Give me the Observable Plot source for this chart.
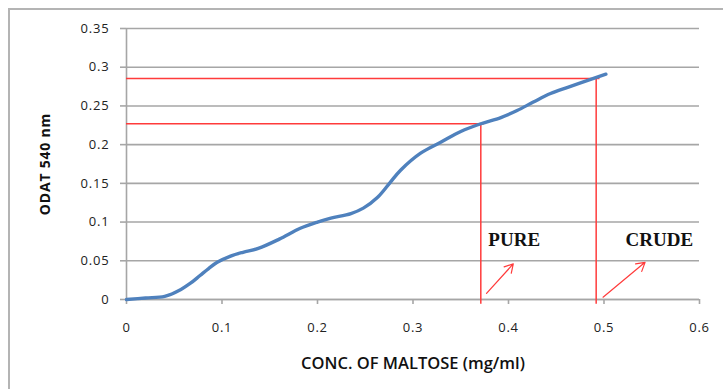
<!DOCTYPE html>
<html>
<head>
<meta charset="utf-8">
<script src="https://cdn.jsdelivr.net/npm/d3@7"></script>
<script src="https://cdn.jsdelivr.net/npm/@observablehq/plot@0.6"></script>
<style>
  html, body { margin: 0; padding: 0; background: #fff; overflow: hidden; }
  #wrap { position: relative; width: 723px; height: 389px; overflow: hidden; }
  #frame { position: absolute; left: 8px; top: 8px; width: 900px; height: 600px; border: 2px solid #b4b4b4; box-sizing: border-box; }
  #chart { position: absolute; left: 0; top: 0; }
</style>
</head>
<body>
<div id="wrap"><div id="frame"></div><div id="chart"></div></div>
<script>
// Series: concentration of maltose (mg/ml) vs OD at 540 nm
const conc = [0, 0.02, 0.04, 0.057, 0.067, 0.077, 0.086, 0.095, 0.109, 0.122, 0.138, 0.16, 0.182, 0.2, 0.214, 0.235, 0.248, 0.263, 0.276, 0.287, 0.308, 0.329, 0.35, 0.371, 0.392, 0.409, 0.426, 0.444, 0.462, 0.483, 0.502];
const od   = [0, 0.002, 0.004, 0.013, 0.021, 0.031, 0.040, 0.048, 0.056, 0.061, 0.066, 0.078, 0.092, 0.100, 0.105, 0.111, 0.118, 0.132, 0.151, 0.167, 0.189, 0.203, 0.217, 0.227, 0.235, 0.244, 0.255, 0.266, 0.274, 0.283, 0.291];

// Tick values
const xTicks = [0, 0.1, 0.2, 0.3, 0.4, 0.5, 0.6];
const yTicks = [0, 0.05, 0.1, 0.15, 0.2, 0.25, 0.3, 0.35];

// Read-off annotations (sample name, OD reading, concentration)
const sampleNames = ["PURE", "CRUDE"];
const sampleOD = [0.227, 0.2855];
const sampleConc = [0.371, 0.4918];
// label anchor points and arrow ends (data units)
const labelX = [0.406, 0.558];
const labelY = [0.077, 0.077];
const arrowX1 = [0.377, 0.499];
const arrowY1 = [0.008, 0.003];
const arrowX2 = [0.405, 0.543];
const arrowY2 = [0.046, 0.048];

const data = conc.map((c, i) => ({x: c, y: od[i]}));
const samples = sampleNames.map((n, i) => ({
  name: n, od: sampleOD[i], conc: sampleConc[i],
  lx: labelX[i], ly: labelY[i],
  ax1: arrowX1[i], ay1: arrowY1[i], ax2: arrowX2[i], ay2: arrowY2[i]
}));

const fmt = d => String(+d.toFixed(3));
const gray = "#a6a6a6";
const red = "#ff3b3b";

const chart = Plot.plot({
  width: 723,
  height: 389,
  marginLeft: 126,
  marginRight: 24,
  marginTop: 28,
  marginBottom: 90,
  style: { fontFamily: "'Open Sans', 'Liberation Sans', sans-serif", fontSize: "13px", color: "#222", background: "transparent" },
  x: { domain: [0, 0.6] },
  y: { domain: [0, 0.35] },
  marks: [
    Plot.gridY(yTicks, { stroke: gray, strokeOpacity: 1, strokeWidth: 1.6 }),
    Plot.axisY(yTicks, { tickSize: 6, tickPadding: 11, stroke: gray, strokeOpacity: 1, strokeWidth: 1.6, tickFormat: fmt, fill: "#222", fontSize: 13,
      label: "ODAT 540 nm", labelAnchor: "center", labelArrow: "none", labelOffset: 86 }),
    Plot.axisX(xTicks, { tickSize: 5, tickPadding: 18, stroke: gray, strokeOpacity: 1, strokeWidth: 1.6, tickFormat: fmt, fill: "#222", fontSize: 13,
      label: "CONC. OF MALTOSE (mg/ml)", labelAnchor: "center", labelArrow: "none", labelOffset: 69 }),
    Plot.ruleX([0], { stroke: gray, strokeWidth: 1.6 }),
    Plot.ruleY([0], { stroke: gray, strokeWidth: 1.6 }),
    // read-off lines
    Plot.ruleY(samples, { y: "od", x1: 0, x2: d => d.conc + 0.004, stroke: red, strokeWidth: 1.5 }),
    Plot.ruleX(samples, { x: "conc", y1: -0.006, y2: "od", stroke: red, strokeWidth: 1.5 }),
    // curve
    Plot.line(data, { x: "x", y: "y", stroke: "#4f81bd", strokeWidth: 3.4, curve: "catmull-rom" }),
    // labels
    Plot.text(samples, { x: "lx", y: "ly", text: "name", fontFamily: "'Liberation Serif', 'DejaVu Serif', serif", fontWeight: "bold", fontSize: 19, fill: "#111" }),
    Plot.arrow(samples, { x1: "ax1", y1: "ay1", x2: "ax2", y2: "ay2", stroke: red, strokeWidth: 1.2, headLength: 12 })
  ]
});
chart.querySelectorAll("[aria-label='y-axis label'] text").forEach(t => {
  t.setAttribute("font-weight", "bold");
  t.setAttribute("font-size", "14");
  t.setAttribute("letter-spacing", "0.8");
  t.setAttribute("fill", "#111");
});
chart.querySelectorAll("[aria-label='x-axis label'] text").forEach(t => {
  t.setAttribute("font-weight", "600");
  t.setAttribute("font-size", "16.5");
  t.setAttribute("fill", "#111");
});
chart.querySelectorAll("[aria-label='y-axis tick label'] text, [aria-label='x-axis tick label'] text").forEach(t => {
  t.setAttribute("letter-spacing", "0.8");
});
document.getElementById("chart").appendChild(chart);
</script>
</body>
</html>
